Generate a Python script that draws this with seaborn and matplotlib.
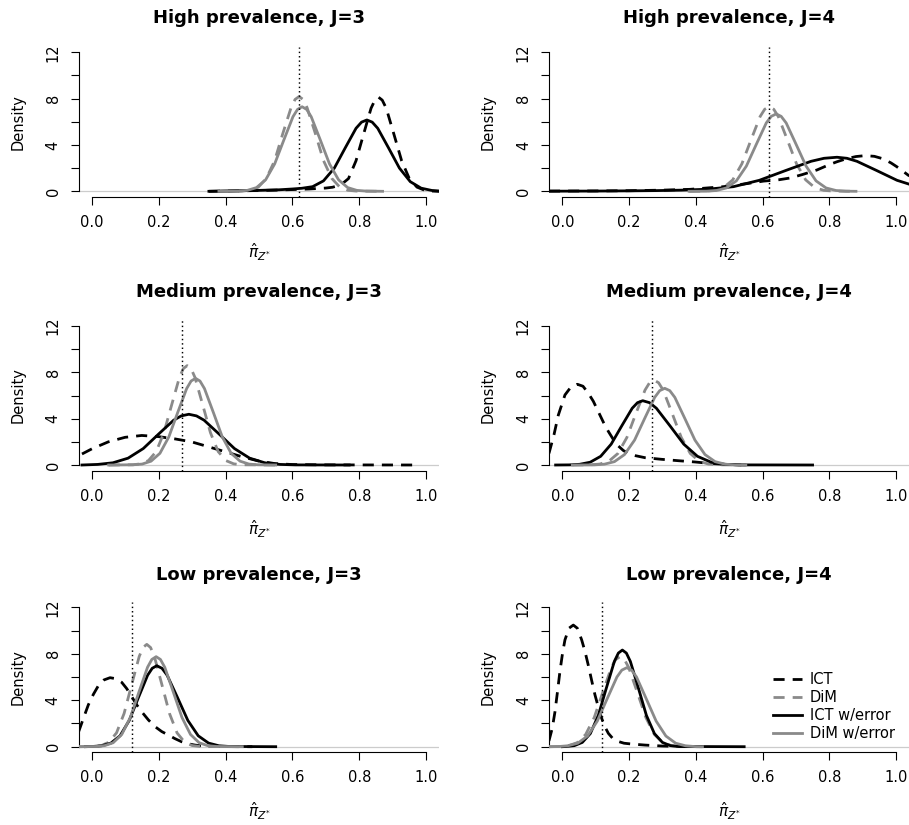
import matplotlib
matplotlib.use("Agg")
import matplotlib.pyplot as plt
from matplotlib.lines import Line2D
import seaborn as sns

# ---------------- data ----------------
PANEL_TITLES = ["High prevalence, J=3", "High prevalence, J=4",
                "Medium prevalence, J=3", "Medium prevalence, J=4",
                "Low prevalence, J=3", "Low prevalence, J=4"]
TRUE_VALUES = [0.62, 0.62, 0.27, 0.27, 0.12, 0.12]
SERIES_LABELS = ["ICT", "DiM", "ICT w/error", "DiM w/error"]
XTICKS = [0.0, 0.2, 0.4, 0.6, 0.8, 1.0]
XTICK_LABELS = ["0.0", "0.2", "0.4", "0.6", "0.8", "1.0"]
YTICKS = [0, 2, 4, 6, 8, 10, 12]
YTICK_LABELS = ["0", "", "4", "", "8", "", "12"]

# High prevalence, J=3
HI3_ICT_X = [0.35, 0.40, 0.45, 0.50, 0.55, 0.60, 0.65, 0.70, 0.72, 0.745, 0.768, 0.7905, 0.813, 0.8355, 0.847, 0.858, 0.869, 0.881, 0.904, 0.927, 0.950, 0.973, 0.996, 1.019, 1.04]
HI3_ICT_Y = [0.0, 0.02, 0.04, 0.07, 0.10, 0.15, 0.20, 0.28, 0.35, 0.55, 1.10, 2.64, 4.92, 7.17, 7.87, 8.12, 7.87, 7.17, 4.92, 2.64, 1.10, 0.36, 0.09, 0.02, 0.0]
HI3_DIM_X = [0.38, 0.449, 0.474, 0.498, 0.522, 0.547, 0.571, 0.596, 0.608, 0.62, 0.632, 0.644, 0.669, 0.693, 0.718, 0.742, 0.766, 0.791, 0.87]
HI3_DIM_Y = [0.0, 0.02, 0.09, 0.36, 1.11, 2.66, 4.96, 7.22, 7.93, 8.18, 7.93, 7.22, 4.96, 2.66, 1.11, 0.36, 0.09, 0.02, 0.0]
HI3_ICTE_X = [0.35, 0.42, 0.50, 0.56, 0.60, 0.628, 0.6605, 0.693, 0.7255, 0.758, 0.7905, 0.807, 0.823, 0.839, 0.8555, 0.888, 0.9205, 0.953, 0.9855, 1.018, 1.04]
HI3_ICTE_Y = [0.0, 0.04, 0.08, 0.13, 0.20, 0.26, 0.40, 0.90, 2.00, 3.74, 5.44, 5.97, 6.16, 5.97, 5.44, 3.74, 2.00, 0.83, 0.27, 0.07, 0.02]
HI3_DIME_X = [0.38, 0.438, 0.465, 0.4925, 0.5198, 0.547, 0.5744, 0.6017, 0.6154, 0.629, 0.6427, 0.6563, 0.6836, 0.711, 0.7382, 0.7655, 0.7928, 0.8201, 0.87]
HI3_DIME_Y = [0.0, 0.02, 0.08, 0.32, 0.99, 2.37, 4.43, 6.44, 7.07, 7.30, 7.07, 6.44, 4.43, 2.37, 0.99, 0.32, 0.08, 0.02, 0.0]

# High prevalence, J=4
HI4_ICT_X = [-0.04, 0.10, 0.20, 0.30, 0.383, 0.483, 0.55, 0.603, 0.65, 0.683, 0.72, 0.763, 0.80, 0.823, 0.85, 0.88, 0.9075, 0.935, 0.962, 0.985, 1.002, 1.02, 1.04]
HI4_ICT_Y = [0.02, 0.03, 0.05, 0.10, 0.17, 0.40, 0.65, 0.88, 1.00, 1.15, 1.45, 1.84, 2.30, 2.55, 2.80, 3.00, 3.08, 3.02, 2.80, 2.45, 2.13, 1.75, 1.32]
HI4_DIM_X = [0.38, 0.4289, 0.4562, 0.4835, 0.5108, 0.5381, 0.5654, 0.5927, 0.6064, 0.62, 0.6337, 0.6473, 0.6746, 0.7019, 0.7292, 0.7565, 0.7838, 0.8111, 0.88]
HI4_DIM_Y = [0.0, 0.02, 0.08, 0.32, 0.99, 2.37, 4.43, 6.45, 7.08, 7.31, 7.08, 6.45, 4.43, 2.37, 0.99, 0.32, 0.08, 0.02, 0.0]
HI4_ICTE_X = [-0.04, 0.10, 0.20, 0.2805, 0.358, 0.4355, 0.513, 0.5905, 0.668, 0.7455, 0.7843, 0.823, 0.853, 0.883, 0.943, 1.003, 1.063]
HI4_ICTE_Y = [0.01, 0.02, 0.04, 0.06, 0.10, 0.18, 0.40, 0.95, 1.78, 2.59, 2.85, 2.94, 2.85, 2.59, 1.78, 0.95, 0.40]
HI4_DIME_X = [0.38, 0.432, 0.4619, 0.4918, 0.5216, 0.5515, 0.5813, 0.6112, 0.6261, 0.641, 0.6559, 0.6709, 0.7007, 0.7306, 0.7604, 0.7903, 0.8201, 0.85, 0.88]
HI4_DIME_Y = [0.0, 0.01, 0.07, 0.29, 0.90, 2.17, 4.05, 5.90, 6.47, 6.68, 6.47, 5.90, 4.05, 2.17, 0.90, 0.29, 0.07, 0.01, 0.0]

# Medium prevalence, J=3
MED3_ICT_X = [-0.03, 0.0, 0.049, 0.099, 0.149, 0.199, 0.249, 0.298, 0.348, 0.398, 0.448, 0.498, 0.548, 0.60, 0.70, 0.97]
MED3_ICT_Y = [0.95, 1.40, 2.00, 2.39, 2.55, 2.45, 2.25, 2.00, 1.58, 1.15, 0.72, 0.35, 0.12, 0.04, 0.01, 0.0]
MED3_DIM_X = [0.05, 0.1226, 0.1458, 0.169, 0.1922, 0.2154, 0.2386, 0.2618, 0.2734, 0.285, 0.2966, 0.3082, 0.3314, 0.3546, 0.3778, 0.401, 0.4242, 0.4474, 0.55]
MED3_DIM_Y = [0.0, 0.02, 0.10, 0.38, 1.16, 2.79, 5.20, 7.57, 8.32, 8.58, 8.32, 7.57, 5.20, 2.79, 1.16, 0.38, 0.10, 0.02, 0.0]
MED3_ICTE_X = [-0.03, 0.017, 0.0625, 0.108, 0.1535, 0.199, 0.2445, 0.2673, 0.29, 0.3128, 0.3355, 0.381, 0.4265, 0.472, 0.5175, 0.563, 0.6085, 0.77]
MED3_ICTE_Y = [0.0, 0.05, 0.19, 0.59, 1.42, 2.66, 3.87, 4.24, 4.38, 4.24, 3.87, 2.66, 1.42, 0.59, 0.19, 0.05, 0.01, 0.0]
MED3_DIME_X = [0.05, 0.1235, 0.1501, 0.1768, 0.2034, 0.2301, 0.2567, 0.2834, 0.2967, 0.31, 0.3233, 0.3367, 0.3633, 0.39, 0.4166, 0.4433, 0.4699, 0.4966, 0.55]
MED3_DIME_Y = [0.0, 0.02, 0.08, 0.33, 1.01, 2.43, 4.54, 6.60, 7.25, 7.48, 7.25, 6.60, 4.54, 2.43, 1.01, 0.33, 0.08, 0.02, 0.0]

# Medium prevalence, J=4
MED4_ICT_X = [-0.04, -0.025, -0.012, 0.008, 0.025, 0.045, 0.062, 0.078, 0.093, 0.108, 0.123, 0.138, 0.153, 0.168, 0.183, 0.198, 0.22, 0.248, 0.298, 0.348, 0.398, 0.448, 0.498, 0.55]
MED4_ICT_Y = [1.00, 2.60, 4.30, 6.05, 6.70, 6.97, 6.80, 6.20, 5.50, 4.60, 3.70, 2.90, 2.20, 1.64, 1.25, 1.00, 0.80, 0.63, 0.49, 0.37, 0.26, 0.12, 0.04, 0.0]
MED4_DIM_X = [0.03, 0.085, 0.1121, 0.1393, 0.1664, 0.1936, 0.2207, 0.2479, 0.2614, 0.275, 0.2886, 0.3022, 0.3293, 0.3565, 0.3836, 0.4108, 0.4379, 0.4651, 0.55]
MED4_DIM_Y = [0.0, 0.02, 0.08, 0.32, 0.99, 2.38, 4.45, 6.47, 7.10, 7.33, 7.10, 6.47, 4.45, 2.38, 0.99, 0.32, 0.08, 0.02, 0.0]
MED4_ICTE_X = [-0.02, 0.0205, 0.052, 0.0835, 0.115, 0.1465, 0.178, 0.2095, 0.2253, 0.241, 0.2615, 0.282, 0.323, 0.364, 0.405, 0.446, 0.487, 0.528, 0.75]
MED4_ICTE_Y = [0.0, 0.01, 0.06, 0.24, 0.75, 1.80, 3.37, 4.90, 5.38, 5.55, 5.38, 4.90, 3.37, 1.80, 0.75, 0.24, 0.06, 0.01, 0.0]
MED4_DIME_X = [0.03, 0.096, 0.1261, 0.1563, 0.1864, 0.2166, 0.2467, 0.2769, 0.2919, 0.307, 0.3221, 0.3372, 0.3673, 0.3975, 0.4276, 0.4578, 0.4879, 0.5181, 0.55]
MED4_DIME_Y = [0.0, 0.01, 0.07, 0.29, 0.90, 2.15, 4.01, 5.84, 6.42, 6.62, 6.42, 5.84, 4.01, 2.15, 0.90, 0.29, 0.07, 0.01, 0.0]

# Low prevalence, J=3
LOW3_ICT_X = [-0.04, -0.025, -0.011, 0.004, 0.019, 0.036, 0.054, 0.072, 0.089, 0.104, 0.119, 0.134, 0.149, 0.169, 0.189, 0.209, 0.229, 0.248, 0.268, 0.288, 0.308, 0.328, 0.348, 0.40, 0.48]
LOW3_ICT_Y = [1.29, 2.50, 3.60, 4.50, 5.25, 5.75, 5.94, 5.85, 5.54, 5.00, 4.30, 3.60, 3.00, 2.30, 1.72, 1.30, 1.00, 0.70, 0.43, 0.25, 0.14, 0.07, 0.03, 0.01, 0.0]
LOW3_DIM_X = [-0.04, 0.0055, 0.0281, 0.0508, 0.0734, 0.0961, 0.1187, 0.1414, 0.1527, 0.164, 0.1753, 0.1867, 0.2093, 0.232, 0.2546, 0.2773, 0.2999, 0.3226, 0.45]
LOW3_DIM_Y = [0.0, 0.02, 0.10, 0.39, 1.19, 2.86, 5.34, 7.77, 8.54, 8.81, 8.54, 7.77, 5.34, 2.86, 1.19, 0.39, 0.10, 0.02, 0.0]
LOW3_ICTE_X = [-0.02, 0.0015, 0.029, 0.0565, 0.084, 0.1115, 0.139, 0.1665, 0.1803, 0.194, 0.2095, 0.225, 0.256, 0.287, 0.318, 0.349, 0.38, 0.411, 0.55]
LOW3_ICTE_Y = [0.0, 0.02, 0.08, 0.31, 0.94, 2.26, 4.23, 6.15, 6.75, 6.97, 6.75, 6.15, 4.23, 2.26, 0.94, 0.31, 0.08, 0.02, 0.0]
LOW3_DIME_X = [-0.04, 0.0118, 0.0375, 0.0633, 0.089, 0.1148, 0.1405, 0.1663, 0.1791, 0.192, 0.2049, 0.2178, 0.2435, 0.2693, 0.295, 0.3208, 0.3465, 0.3723, 0.45]
LOW3_DIME_Y = [0.0, 0.02, 0.09, 0.34, 1.05, 2.52, 4.70, 6.84, 7.51, 7.75, 7.51, 6.84, 4.70, 2.52, 1.05, 0.34, 0.09, 0.02, 0.0]

# Low prevalence, J=4
LOW4_ICT_X = [-0.04, -0.03, -0.022, -0.015, -0.007, 0.001, 0.008, 0.02, 0.033, 0.045, 0.058, 0.068, 0.078, 0.088, 0.098, 0.108, 0.118, 0.128, 0.138, 0.15, 0.163, 0.185, 0.208, 0.248, 0.298, 0.348, 0.42]
LOW4_ICT_Y = [0.50, 1.60, 3.00, 4.60, 6.50, 8.10, 9.20, 10.20, 10.47, 10.20, 9.20, 8.20, 7.00, 5.70, 4.45, 3.40, 2.44, 1.70, 1.15, 0.75, 0.49, 0.30, 0.23, 0.14, 0.06, 0.02, 0.0]
LOW4_DIM_X = [-0.04, -0.0073, 0.0185, 0.0443, 0.07, 0.0958, 0.1215, 0.1473, 0.1601, 0.173, 0.1859, 0.1988, 0.2245, 0.2503, 0.276, 0.3018, 0.3275, 0.3533, 0.42]
LOW4_DIM_Y = [0.0, 0.02, 0.09, 0.34, 1.05, 2.52, 4.70, 6.84, 7.51, 7.75, 7.51, 6.84, 4.70, 2.52, 1.05, 0.34, 0.09, 0.02, 0.0]
LOW4_ICTE_X = [0.0, 0.012, 0.036, 0.06, 0.084, 0.108, 0.132, 0.156, 0.168, 0.18, 0.192, 0.204, 0.228, 0.252, 0.276, 0.30, 0.324, 0.348, 0.545]
LOW4_ICTE_Y = [0.0, 0.02, 0.09, 0.37, 1.13, 2.70, 5.05, 7.34, 8.06, 8.32, 8.06, 7.34, 5.05, 2.70, 1.13, 0.37, 0.09, 0.02, 0.0]
LOW4_DIME_X = [-0.04, -0.0125, 0.0169, 0.0463, 0.0756, 0.105, 0.1343, 0.1637, 0.1783, 0.193, 0.2077, 0.2224, 0.2517, 0.2811, 0.3104, 0.3398, 0.3691, 0.3985, 0.42]
LOW4_DIME_Y = [0.0, 0.01, 0.08, 0.30, 0.92, 2.21, 4.12, 6.00, 6.59, 6.80, 6.59, 6.00, 4.12, 2.21, 0.92, 0.30, 0.08, 0.01, 0.0]

PANEL_CURVES = [
    [(HI3_ICT_X, HI3_ICT_Y), (HI3_DIM_X, HI3_DIM_Y), (HI3_ICTE_X, HI3_ICTE_Y), (HI3_DIME_X, HI3_DIME_Y)],
    [(HI4_ICT_X, HI4_ICT_Y), (HI4_DIM_X, HI4_DIM_Y), (HI4_ICTE_X, HI4_ICTE_Y), (HI4_DIME_X, HI4_DIME_Y)],
    [(MED3_ICT_X, MED3_ICT_Y), (MED3_DIM_X, MED3_DIM_Y), (MED3_ICTE_X, MED3_ICTE_Y), (MED3_DIME_X, MED3_DIME_Y)],
    [(MED4_ICT_X, MED4_ICT_Y), (MED4_DIM_X, MED4_DIM_Y), (MED4_ICTE_X, MED4_ICTE_Y), (MED4_DIME_X, MED4_DIME_Y)],
    [(LOW3_ICT_X, LOW3_ICT_Y), (LOW3_DIM_X, LOW3_DIM_Y), (LOW3_ICTE_X, LOW3_ICTE_Y), (LOW3_DIME_X, LOW3_DIME_Y)],
    [(LOW4_ICT_X, LOW4_ICT_Y), (LOW4_DIM_X, LOW4_DIM_Y), (LOW4_ICTE_X, LOW4_ICTE_Y), (LOW4_DIME_X, LOW4_DIME_Y)],
]

# ---------------- styling ----------------
W, H = 909, 825
GRAY = "#8a8a8a"
LW = 2.0
DASH = (0, (4.0, 2.9))
SERIES_STYLE = [("black", DASH), (GRAY, DASH), ("black", "-"), (GRAY, "-")]

COL_LEFT = [78.64, 548.95]
COL_W = [360.72, 360.4]
ROW_TB = [(46.74, 196.86), (320.44, 470.56), (601.72, 752.28)]
TITLE_Y = [18.3, 292.0, 575.0]
XLAB_Y = [251.7, 529.0, 811.5]

fig = plt.figure(figsize=(W / 100, H / 100), dpi=100)

for i in range(6):
    r, c = divmod(i, 2)
    top, bot = ROW_TB[r]
    left, w = COL_LEFT[c], COL_W[c]
    ax = fig.add_axes([left / W, 1 - bot / H, w / W, (bot - top) / H])
    ax.set_xlim(-0.04, 1.04)
    ax.set_ylim(-0.48, 12.48)
    ax.axhline(0, color="#cccccc", lw=0.9, zorder=1)
    for (xs, ys), (col, ls) in zip(PANEL_CURVES[i], SERIES_STYLE):
        sns.lineplot(x=xs, y=ys, ax=ax, color=col, linewidth=LW, linestyle=ls,
                     sort=False, estimator=None, errorbar=None, legend=False, zorder=3)
    ax.axvline(TRUE_VALUES[i], color="black", lw=1.05, linestyle=(0, (1, 2)), zorder=5)

    for s in ["top", "right"]:
        ax.spines[s].set_visible(False)
    ax.spines["left"].set_bounds(0, 12)
    ax.spines["bottom"].set_bounds(0, 1)
    for s in ["left", "bottom"]:
        ax.spines[s].set_linewidth(0.8)
    ax.set_xticks(XTICKS)
    ax.set_xticklabels(XTICK_LABELS)
    ax.set_yticks(YTICKS)
    ax.set_yticklabels(YTICK_LABELS, rotation=90, va="center")
    ax.tick_params(axis="both", length=5.5, width=0.8, labelsize=10.5, pad=7.5, direction="out")
    ax.set_xlabel("")
    ax.set_ylabel("")

    cx = (left + w / 2) / W
    fig.text(cx, 1 - TITLE_Y[r] / H, PANEL_TITLES[i], ha="center", va="center",
             fontsize=13, fontweight="bold")
    fig.text(cx, 1 - XLAB_Y[r] / H, r"$\hat{\pi}_{Z^{*}}$", ha="center", va="center", fontsize=11)
    fig.text((left - 60.5) / W, 1 - ((top + bot) / 2) / H, "Density", ha="center", va="center",
             rotation=90, fontsize=10.5)

    if i == 5:
        handles = [Line2D([], [], color=col, lw=LW, linestyle=ls) for col, ls in SERIES_STYLE]
        ax.legend(handles, SERIES_LABELS, loc="upper left", bbox_to_anchor=(0.622, 0.535),
                  frameon=False, fontsize=10.5, handlelength=2.0, handletextpad=0.5,
                  labelspacing=0.22, borderpad=0, borderaxespad=0)

fig.savefig("out.png", dpi=100)
